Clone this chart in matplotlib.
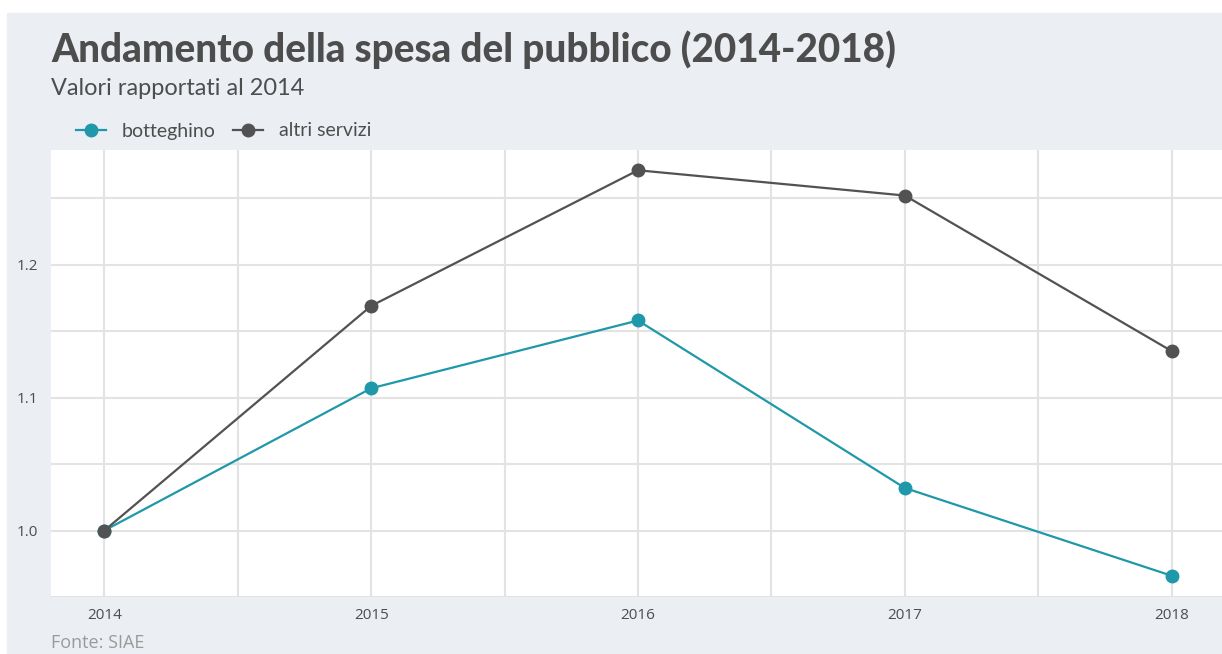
import matplotlib.pyplot as plt
from matplotlib.patches import Rectangle
from matplotlib.lines import Line2D

anni = [2014, 2015, 2016, 2017, 2018]
botteghino = [1.0, 1.107, 1.158, 1.032, 0.966]
altri_servizi = [1.0, 1.169, 1.271, 1.252, 1.135]

teal = '#1f98aa'
scuro = '#525252'
sfondo = '#ebeef3'
griglia = '#e3e3e3'

W, H = 1222, 654
fig = plt.figure(figsize=(W / 100, H / 100), dpi=100, facecolor='white')

# sfondo grigio-azzurro della figura
fig.patches.append(Rectangle((7 / W, 0), 1 - 7 / W, 1 - 13 / H,
                             transform=fig.transFigure, color=sfondo, zorder=-1))

ax = fig.add_axes([51 / W, 1 - 597 / H, (1225 - 51) / W, (597 - 150) / H])
ax.set_zorder(1)
ax.set_facecolor('white')

ax.plot(anni, botteghino, color=teal, lw=1.6, marker='o', ms=9, zorder=3)
ax.plot(anni, altri_servizi, color=scuro, lw=1.6, marker='o', ms=9, zorder=3)

tutti = botteghino + altri_servizi
lo, hi = min(tutti), max(tutti)
pad = (hi - lo) * 0.05
ax.set_ylim(lo - pad, hi + pad)
ax.set_xlim(anni[0] - 0.2, anni[-1] + 0.2)

ax.set_xticks(anni)
ax.set_xticklabels([str(a) for a in anni])
ax.set_xticks([a + 0.5 for a in anni[:-1]], minor=True)
ax.set_yticks([1.0, 1.1, 1.2])
ax.set_yticklabels(['1.0', '1.1', '1.2'])
ax.set_yticks([0.95, 1.05, 1.15, 1.25], minor=True)

ax.grid(True, which='both', color=griglia, lw=1.5, zorder=0)
ax.set_axisbelow(True)
for s in ax.spines.values():
    s.set_visible(False)
ax.tick_params(which='both', length=0)
ax.tick_params(axis='x', pad=8)
ax.tick_params(axis='y', pad=9)
for lab in ax.get_xticklabels() + ax.get_yticklabels():
    lab.set_fontfamily('Open Sans')
    lab.set_fontsize(11)
    lab.set_color('#4d4d4d')

fig.text(51 / W, 1 - 62 / H, 'Andamento della spesa del pubblico (2014-2018)',
         fontfamily='Lato', fontweight='black', fontsize=27.8, color='#4d4d4d',
         va='baseline', ha='left')
fig.text(51 / W, 1 - 95 / H, 'Valori rapportati al 2014',
         fontfamily='Lato', fontsize=16.9, color='#4d4d4d',
         va='baseline', ha='left')
fig.text(51 / W, 1 - 648 / H, 'Fonte: SIAE',
         fontfamily='Open Sans', fontsize=13, color='#9a9a9a',
         va='baseline', ha='left')

handles = [
    Line2D([], [], color=teal, lw=1.6, marker='o', ms=9),
    Line2D([], [], color=scuro, lw=1.6, marker='o', ms=9),
]
fig.legend(handles, ['botteghino', 'altri servizi'], loc='center left',
           bbox_to_anchor=(76 / W, 1 - 131 / H), ncol=2, frameon=False,
           handlelength=1.55, handletextpad=0.82, columnspacing=0.87,
           prop={'family': 'Lato', 'size': 14}, labelcolor='#4d4d4d',
           borderaxespad=0, borderpad=0)

fig.savefig('out.png', dpi=100, facecolor='white')
